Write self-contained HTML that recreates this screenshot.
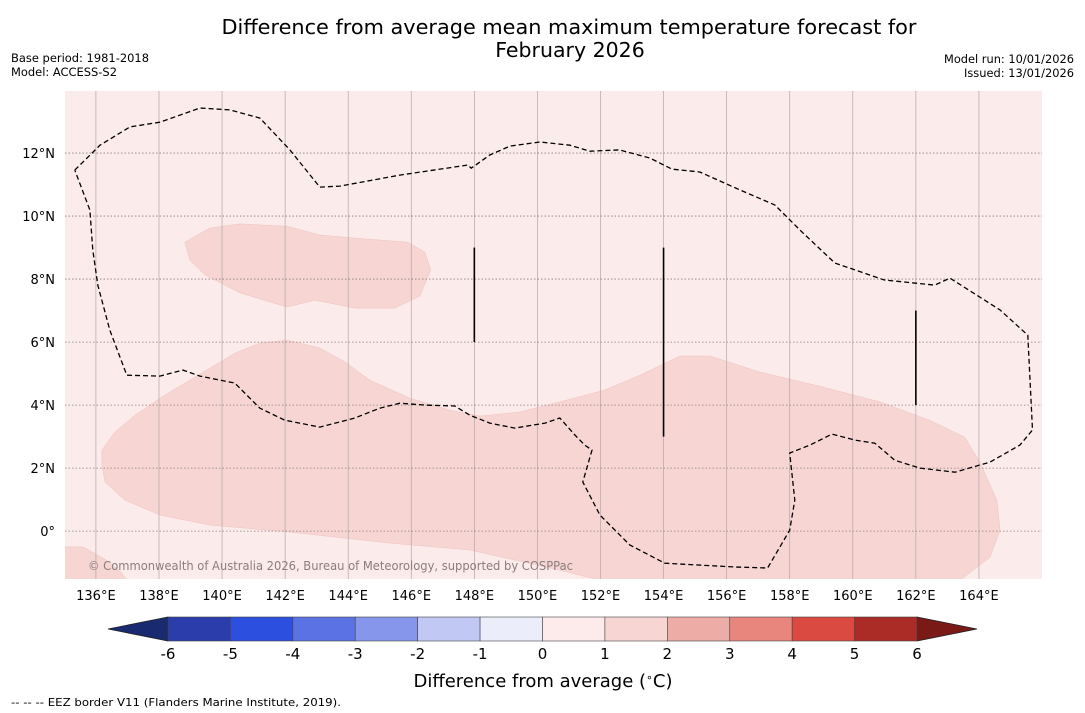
<!DOCTYPE html>
<html><head><meta charset="utf-8">
<style>
body{margin:0;background:#fff;font-family:"DejaVu Sans","Liberation Sans",sans-serif;}
svg{display:block}
</style></head>
<body>
<svg id="chart" width="1085" height="713" xmlns="http://www.w3.org/2000/svg" font-family="DejaVu Sans, Liberation Sans, sans-serif">
<text x="569" y="34" font-size="20.5" text-anchor="middle" textLength="695" lengthAdjust="spacingAndGlyphs">Difference from average mean maximum temperature forecast for</text>
<text x="570" y="57" font-size="20.5" text-anchor="middle">February 2026</text>
<text x="11" y="62" font-size="11.5" textLength="138" lengthAdjust="spacingAndGlyphs">Base period: 1981-2018</text>
<text x="11" y="76" font-size="11.5" textLength="106" lengthAdjust="spacingAndGlyphs">Model: ACCESS-S2</text>
<text x="1074" y="63" font-size="11.5" text-anchor="end" textLength="130" lengthAdjust="spacingAndGlyphs">Model run: 10/01/2026</text>
<text x="1074" y="77" font-size="11.5" text-anchor="end" textLength="110" lengthAdjust="spacingAndGlyphs">Issued: 13/01/2026</text>
<defs><clipPath id="mapclip"><rect x="65" y="91" width="977" height="488"/></clipPath></defs>
<g id="map" clip-path="url(#mapclip)"></g>
<g id="axes"></g>
<g id="cbar"></g>
<text x="543" y="687" font-size="18" text-anchor="middle">Difference from average (<tspan baseline-shift="super" font-size="11">∘</tspan>C)</text>
<text x="11" y="706" font-size="11" textLength="330" lengthAdjust="spacingAndGlyphs">--  --  -- EEZ border V11 (Flanders Marine Institute, 2019).</text>
</svg>
<script>
const lonTicks=[136,138,140,142,144,146,148,150,152,154,156,158,160,162,164];
const latTicks=[0,2,4,6,8,10,12];
const latLabels=["0°","2°N","4°N","6°N","8°N","10°N","12°N"];
const cbarLevels=[-6,-5,-4,-3,-2,-1,0,1,2,3,4,5,6];
const cbarColors=["#2a3dab","#2d4fe0","#5b72e4","#8697eb","#c1c8f3","#ebedfa","#fcebea","#f6d5d3","#eeaca7","#e8857d","#db4a40","#ab2b26"];
const eezLon=[135.33,136.13,137.08,138.03,139.3,140.25,141.2,142.15,143.1,143.74,145.64,147.8,147.9,148.49,149.13,150.08,151.03,151.66,152.6,153.57,154.26,155.15,156.42,157.53,158.32,159.43,161.0,162.6,163.08,164.67,165.55,165.7,165.3,164.35,163.24,162.13,161.33,160.7,160.07,159.34,158.64,158.0,158.16,158.0,157.3,156.26,154.04,152.93,151.98,151.44,151.73,151.5,151.19,150.71,150.24,149.28,148.49,147.86,147.38,146.43,145.64,145.0,144.21,143.1,141.99,141.2,140.4,140.25,139.3,138.76,138.03,136.98,136.44,136.06,135.9,135.81,135.33];
const eezLat=[11.46,12.25,12.83,12.98,13.43,13.37,13.11,12.1,10.92,10.95,11.3,11.62,11.52,11.94,12.22,12.35,12.25,12.06,12.1,11.84,11.49,11.4,10.83,10.35,9.56,8.51,7.97,7.81,8.03,7.02,6.22,3.21,2.73,2.19,1.87,2.0,2.25,2.79,2.89,3.08,2.73,2.48,0.98,0.03,-1.17,-1.14,-1.02,-0.44,0.51,1.56,2.57,2.73,3.05,3.59,3.43,3.27,3.43,3.68,3.97,4.0,4.06,3.9,3.59,3.3,3.52,3.9,4.7,4.73,4.92,5.11,4.92,4.95,6.38,7.81,8.92,10.19,11.46];
const patch1Lon=[138.82,139.61,140.57,142.06,143.1,144.21,145.89,146.43,146.62,146.27,145.48,144.21,142.94,142.06,140.57,139.46,138.98];
const patch1Lat=[9.17,9.62,9.75,9.68,9.4,9.3,9.17,8.86,8.29,7.46,7.08,7.08,7.33,7.11,7.56,8.13,8.6];
const patch2Lon=[136.19,136.6,137.24,138.19,139.61,140.41,141.2,142.09,143.1,143.9,144.69,145.96,147.22,148.18,149.44,150.71,152.14,153.25,154.52,155.47,157.05,158.95,160.86,162.44,163.55,164.03,164.57,164.67,164.35,163.4,152.0,150.71,147.86,145.32,142.15,139.61,138.03,136.92,136.29,136.19];
const patch2Lat=[2.57,3.14,3.68,4.32,5.17,5.65,5.97,6.06,5.81,5.37,4.79,4.22,3.84,3.65,3.78,4.1,4.48,4.95,5.56,5.56,5.05,4.6,4.1,3.52,2.98,2.19,0.98,0.03,-0.83,-1.56,-1.56,-1.24,-0.6,-0.38,-0.03,0.19,0.51,0.98,1.56,2.1];
const patch3Lon=[135.0,135.6,136.3,136.8,137.0,135.0];
const patch3Lat=[-0.5,-0.5,-0.9,-1.3,-1.6,-1.6];
const segLon=[148,154,162];
const segLat0=[6,3,4];
const segLat1=[9,9,7];

const NS="http://www.w3.org/2000/svg";
const X0=65,X1=1042,Y0=91,Y1=579,LON0=135.02,LON1=166.0,LAT0=-1.52,LAT1=13.97;
const xs=l=>X0+(l-LON0)/(LON1-LON0)*(X1-X0);
const ys=l=>Y1-(l-LAT0)/(LAT1-LAT0)*(Y1-Y0);
function mk(tag,attrs,parent){const e=document.createElementNS(NS,tag);for(const k in attrs)e.setAttribute(k,attrs[k]);parent.appendChild(e);return e;}
const map=document.getElementById('map'),axes=document.getElementById('axes'),cb=document.getElementById('cbar');
let e=mk('rect',{x:X0,y:Y0,width:X1-X0,height:Y1-Y0,fill:'#fbebea'},map);


function pts(a,b){return a.map((v,i)=>xs(v).toFixed(1)+','+ys(b[i]).toFixed(1)).join(' ');}
[[patch1Lon,patch1Lat,'anomaly-patch-north'],[patch2Lon,patch2Lat,'anomaly-patch-south'],[patch3Lon,patch3Lat,'anomaly-patch-southwest']].forEach(p=>{
 e=mk('polygon',{points:pts(p[0],p[1]),fill:'#f6d5d3',stroke:'#eec4c1','stroke-width':0.5},map);
 
 
});
lonTicks.forEach(l=>{
 e=mk('line',{x1:xs(l),x2:xs(l),y1:Y0,y2:Y1,stroke:'#b3a7a6','stroke-width':0.7},map);
 
 
 e=mk('text',{x:xs(l),y:600,'font-size':13,'text-anchor':'middle'},axes);e.textContent=l+'°E';
 
 
});
latTicks.forEach((l,i)=>{
 e=mk('line',{x1:X0,x2:X1,y1:ys(l),y2:ys(l),stroke:'#8a7f7e','stroke-width':0.8,'stroke-dasharray':'1.5,2'},map);
 
 
 e=mk('text',{x:55,y:ys(l)+5,'font-size':13,'text-anchor':'end'},axes);e.textContent=latLabels[i];
 
 
});
e=mk('polyline',{points:pts(eezLon,eezLat),fill:'none',stroke:'#000','stroke-width':1.3,'stroke-dasharray':'5,3'},map);


segLon.forEach((l,i)=>{
 e=mk('line',{x1:xs(l),x2:xs(l),y1:ys(segLat0[i]),y2:ys(segLat1[i]),stroke:'#000','stroke-width':1.6},map);
 
 
});
e=mk('text',{x:88,y:570,'font-size':12,fill:'#8a7e7d',textLength:485,lengthAdjust:'spacingAndGlyphs'},map);e.textContent='© Commonwealth of Australia 2026, Bureau of Meteorology, supported by COSPPac';


const C0=168,C1=917,CY=617,CH=24;
const cx=v=>C0+(v-cbarLevels[0])/(cbarLevels[cbarLevels.length-1]-cbarLevels[0])*(C1-C0);
e=mk('polygon',{points:`${C0},${CY} 108,${CY+CH/2} ${C0},${CY+CH}`,fill:'#1a2a70',stroke:'#222','stroke-width':0.8},cb);


e=mk('polygon',{points:`${C1},${CY} 977,${CY+CH/2} ${C1},${CY+CH}`,fill:'#7a1a17',stroke:'#222','stroke-width':0.8},cb);


cbarColors.forEach((c,i)=>{
 e=mk('rect',{x:cx(cbarLevels[i]),y:CY,width:cx(cbarLevels[i+1])-cx(cbarLevels[i]),height:CH,fill:c,stroke:'#444','stroke-width':0.6},cb);
 
 
});
cbarLevels.forEach(v=>{
 e=mk('text',{x:cx(v),y:659,'font-size':15,'text-anchor':'middle'},cb);e.textContent=v;
 
 
});
</script>
</body></html>
